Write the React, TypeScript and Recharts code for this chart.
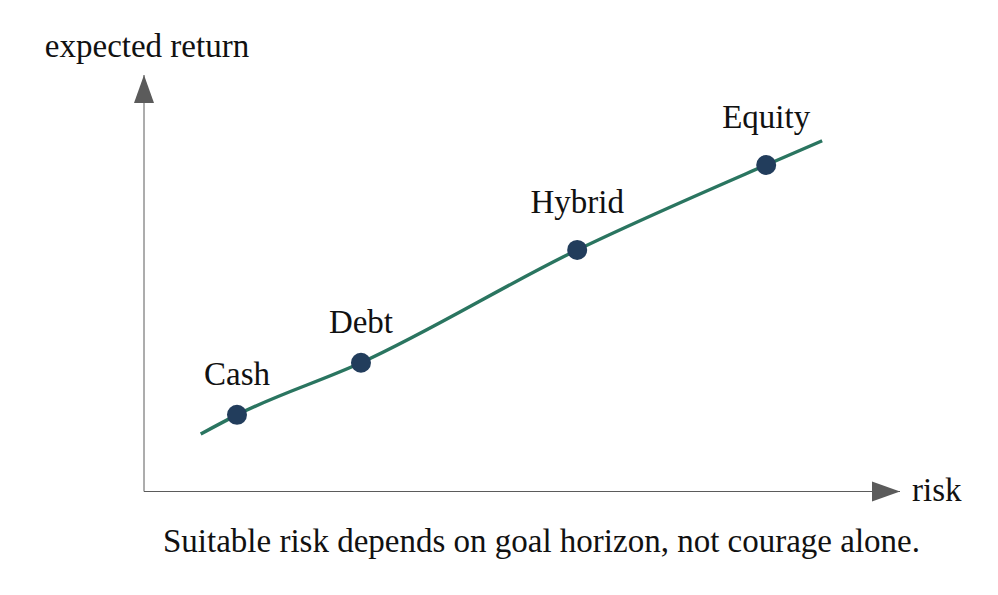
import React from "react";
import { ComposedChart, Line, Scatter, XAxis, YAxis, LabelList } from "recharts";

const curveX = [0.75, 1.23, 2.87, 5.73, 8.23, 8.97];
const curveY = [1.38, 1.84, 3.09, 5.8, 7.84, 8.42];
const assetNames = ["Cash", "Debt", "Hybrid", "Equity"];
const assetX = [1.23, 2.87, 5.73, 8.23];
const assetY = [1.84, 3.09, 5.8, 7.84];

const curveData = curveX.map((x, i) => ({ x, y: curveY[i] }));
const assetData = assetNames.map((name, i) => ({ name, x: assetX[i], y: assetY[i] }));

const FONT = "'Liberation Serif', 'DejaVu Serif', serif";
const AXIS = "#5b5b5b";
const W = 998;
const H = 595;
const LEFT = 144;
const TOP = 75;
const RIGHT = 900;
const BOTTOM = 491.5;
const FS = 33;

export default function App() {
  return (
    <div style={{ position: "absolute", left: 0, top: 0, width: W, height: H }}>
      <ComposedChart
        width={W}
        height={H}
        margin={{ top: TOP, right: W - RIGHT, bottom: H - BOTTOM - 1, left: LEFT - 1 }}
      >
        <XAxis
          type="number"
          dataKey="x"
          domain={[0, 10]}
          height={1}
          tick={false}
          tickLine={false}
          axisLine={{ stroke: AXIS, strokeWidth: 1 }}
        />
        <YAxis
          type="number"
          dataKey="y"
          domain={[0, 10]}
          width={1}
          tick={false}
          tickLine={false}
          axisLine={{ stroke: AXIS, strokeWidth: 1 }}
        />
        <Line
          data={curveData}
          dataKey="y"
          type="monotone"
          stroke="#2a7560"
          strokeWidth={3.4}
          dot={false}
          activeDot={false}
          isAnimationActive={false}
        />
        <Scatter
          data={assetData}
          dataKey="y"
          fill="#223d5c"
          isAnimationActive={false}
          shape={(p: any) => <circle cx={p.cx} cy={p.cy} r={10} fill="#223d5c" />}
        >
          <LabelList
            dataKey="name"
            content={(p: any) => {
              const desc = /[gjpqy]/.test(String(p.value)) ? 7 : 0;
              return (
                <text
                  x={p.x + (p.width || 0) / 2}
                  y={p.y + (p.height || 0) / 2 - 30 - desc}
                  textAnchor="middle"
                  fontFamily={FONT}
                  fontSize={FS}
                  fill="#111"
                >
                  {p.value}
                </text>
              );
            }}
          />
        </Scatter>
      </ComposedChart>
      <svg
        width={W}
        height={H}
        style={{ position: "absolute", left: 0, top: 0, pointerEvents: "none" }}
      >
        <polygon points={`${LEFT},${TOP} ${LEFT - 10},${TOP + 28} ${LEFT + 10},${TOP + 28}`} fill={AXIS} />
        <polygon points={`${RIGHT},${BOTTOM} ${RIGHT - 28},${BOTTOM - 10} ${RIGHT - 28},${BOTTOM + 10}`} fill={AXIS} />
        <text x={147} y={57} textAnchor="middle" fontFamily={FONT} fontSize={FS} fill="#111">expected return</text>
        <text x={912} y={501} textAnchor="start" fontFamily={FONT} fontSize={FS} fill="#111">risk</text>
        <text x={541.5} y={552} textAnchor="middle" fontFamily={FONT} fontSize={FS} fill="#111">Suitable risk depends on goal horizon, not courage alone.</text>
      </svg>
    </div>
  );
}
